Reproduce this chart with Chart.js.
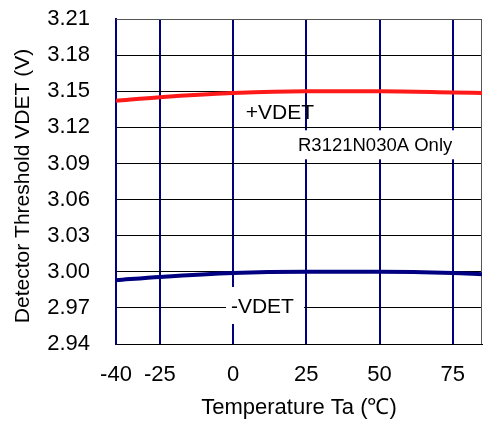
<!DOCTYPE html>
<html>
<head>
<meta charset="utf-8">
<script src="https://cdn.jsdelivr.net/npm/chart.js@4/dist/chart.umd.min.js"></script>
<style>
  html, body { margin: 0; padding: 0; background: #fff; }
  #wrap { width: 483px; height: 421px; }
</style>
</head>
<body>
<div id="wrap"><canvas id="chart" width="483" height="421"></canvas></div>
<script>
// --- Data ---
const temps = [-40, -25, 0, 25, 50, 75, 85];
const vdetPlus = [3.142, 3.145, 3.1485, 3.150, 3.150, 3.149, 3.1485];
const vdetMinus = [2.993, 2.9957, 2.999, 3.000, 3.000, 2.999, 2.998];
const xTicks = [-40, -25, 0, 25, 50, 75];
const yTicks = [2.94, 2.97, 3.00, 3.03, 3.06, 3.09, 3.12, 3.15, 3.18, 3.21];
const yTitle = 'Detector Threshold VDET (V)';

const FONT = 'Liberation Sans, Arial, sans-serif';
const NAVY = '#000080';

// labels with white boxes behind them
const boxLabels = {
  id: 'boxLabels',
  beforeDatasetsDraw(chart) {
    const { ctx, scales: { x, y } } = chart;
    ctx.save();
    ctx.textBaseline = 'middle';
    ctx.textAlign = 'center';

    const items = [
      { text: '+VDET', size: 21, tx: 16, ty: 3.1315 },
      { text: 'R3121N030A Only', size: 18.5, tx: 48.5, ty: 3.1045, bx: 48.5, by: 3.1055, w: 170, h: 29 },
      { text: '-VDET', size: 21, tx: 10, ty: 2.9707, bx: 10.9, by: 2.972, w: 78, h: 37 }
    ];
    items.forEach(it => {
      if (it.w) {
        const bx = x.getPixelForValue(it.bx), by = y.getPixelForValue(it.by);
        ctx.fillStyle = '#fff';
        ctx.fillRect(bx - it.w / 2, by - it.h / 2, it.w, it.h);
      }
      ctx.font = it.size + 'px ' + FONT;
      ctx.fillStyle = '#000';
      ctx.fillText(it.text, x.getPixelForValue(it.tx), y.getPixelForValue(it.ty));
    });

    // top / right frame
    const a = chart.chartArea;
    ctx.strokeStyle = '#555';
    ctx.lineWidth = 1;
    ctx.beginPath();
    ctx.moveTo(a.left, a.top + 0.5);
    ctx.lineTo(a.right - 0.5, a.top + 0.5);
    ctx.lineTo(a.right - 0.5, a.bottom);
    ctx.stroke();

    // y axis title, a bit below the plot centre as in the source
    ctx.translate(23, 186);
    ctx.rotate(-Math.PI / 2);
    ctx.font = '21px ' + FONT;
    ctx.fillText(yTitle, 0, 0);
    ctx.restore();
  }
};

new Chart(document.getElementById('chart'), {
  type: 'line',
  data: {
    labels: temps,
    datasets: [
      {
        label: '+VDET',
        data: temps.map((t, i) => ({ x: t, y: vdetPlus[i] })),
        borderColor: '#ff1a1a',
        borderWidth: 4,
        pointRadius: 0,
        cubicInterpolationMode: 'monotone'
      },
      {
        label: '-VDET',
        data: temps.map((t, i) => ({ x: t, y: vdetMinus[i] })),
        borderColor: NAVY,
        borderWidth: 4,
        pointRadius: 0,
        cubicInterpolationMode: 'monotone'
      }
    ]
  },
  options: {
    responsive: false,
    animation: false,
    layout: { padding: { top: 19, right: 1, left: 0, bottom: 0 } },
    plugins: { legend: { display: false }, tooltip: { enabled: false } },
    scales: {
      x: {
        type: 'linear',
        min: -40,
        max: 85,
        afterBuildTicks: s => { s.ticks = xTicks.map(v => ({ value: v })); },
        afterFit: s => { s.height = 77; s.paddingLeft = 0; s.paddingRight = 0; },
        grid: { color: NAVY, lineWidth: 2, drawTicks: false },
        border: { color: '#000', width: 1 },
        ticks: { color: '#000', font: { family: FONT, size: 22 }, padding: 18, maxRotation: 0 },
        title: { display: true, text: 'Temperature Ta (℃)', color: '#000', font: { family: FONT, size: 22 }, padding: { top: 0, bottom: 0 } }
      },
      y: {
        min: 2.94,
        max: 3.21,
        afterBuildTicks: s => { s.ticks = yTicks.map(v => ({ value: v })); },
        afterFit: s => { s.width = 116; s.paddingTop = 0; s.paddingBottom = 0; },
        grid: { color: '#000', lineWidth: 1, drawTicks: false },
        border: { color: NAVY, width: 2 },
        ticks: { color: '#000', font: { family: FONT, size: 22 }, padding: 26, callback: v => v.toFixed(2) },
        title: { display: false }
      }
    }
  },
  plugins: [boxLabels]
});
</script>
</body>
</html>
